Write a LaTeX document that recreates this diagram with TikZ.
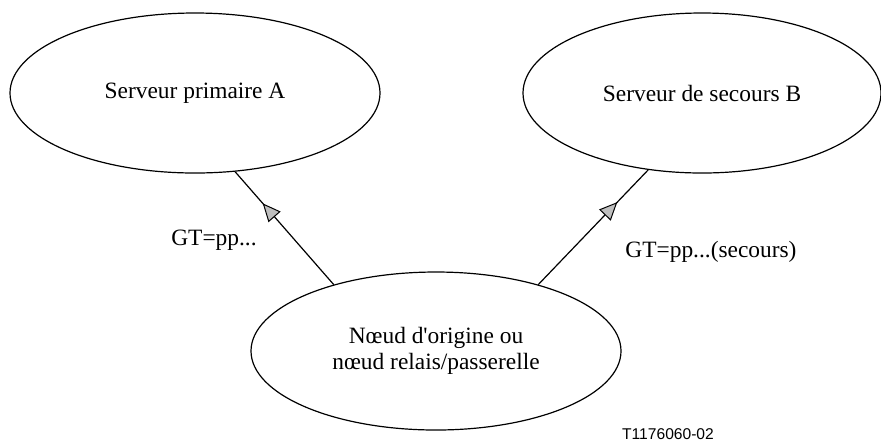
\documentclass[tikz,border=0pt]{standalone}
\usepackage{fontspec}
\setmainfont{Liberation Serif}
\newfontfamily\tagfont{Liberation Sans}
\usepackage{tikz}
\usetikzlibrary{arrows.meta,positioning,shapes.geometric,decorations.markings}

\begin{document}
\begin{tikzpicture}[
  x=0.5pt,y=-0.5pt,
  every node/.style={font=\fontsize{11.7}{12.8}\selectfont},
  srv/.style={draw,ellipse,line width=0.6pt,inner sep=0pt,
              minimum width=185pt,minimum height=80pt,align=center},
  link/.style={draw,line width=0.6pt,postaction={decorate},
               decoration={markings,mark=at position 0.72 with
                 {\arrow{Triangle[length=9pt,width=8pt,fill=lightgray,line width=0.5pt]}}}}
]
  \useasboundingbox (0,0) rectangle (881,441);
  \node[srv] (prim) at (195,93) {Serveur primaire A};
  \node[srv,minimum width=179pt] (back) at (702,93) {Serveur de secours B};
  \node[srv,minimum height=79pt] (orig) at (436,351)
    {N\oe ud d\textquotesingle origine ou\\n\oe ud relais/passerelle};
  \path[link] (orig.147) -- (prim.297);
  \path[link] (orig.33) -- (back.235);
  \node (gtprim) at (214,240) {GT=pp...};
  \node[anchor=west,inner sep=0pt] (gtback) at (625,252) {GT=pp...(secours)};
  \node[font=\tagfont\fontsize{7.8}{9}\selectfont] (tag) at (668,434) {T1176060-02};
\end{tikzpicture}
\end{document}
